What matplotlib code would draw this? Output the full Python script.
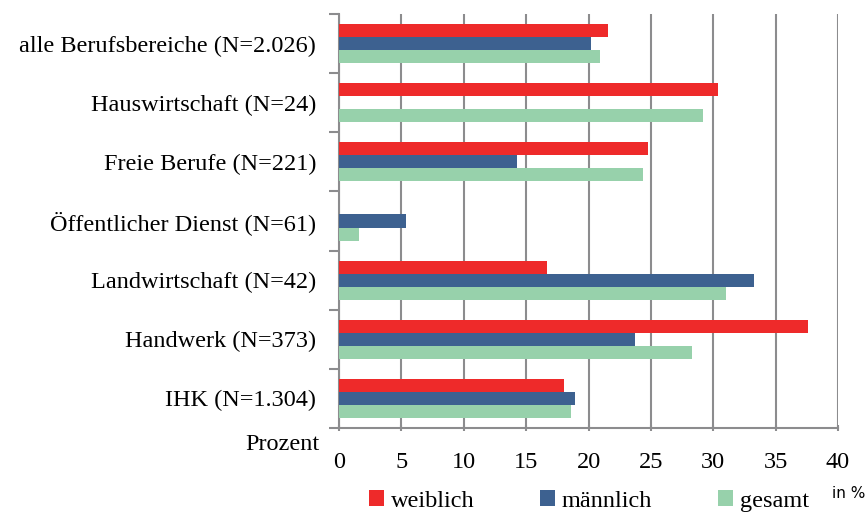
import numpy as np
import matplotlib
matplotlib.use("Agg")
import matplotlib.pyplot as plt
from matplotlib.patches import Patch

# categories, top to bottom as shown
categories = [
    "alle Berufsbereiche (N=2.026)",
    "Hauswirtschaft (N=24)",
    "Freie Berufe (N=221)",
    "Öffentlicher Dienst (N=61)",
    "Landwirtschaft (N=42)",
    "Handwerk (N=373)",
    "IHK (N=1.304)",
]
weiblich = [21.6, 30.4, 24.8, 0.0, 16.7, 37.6, 18.0]
maennlich = [20.2, 0.0, 14.3, 5.35, 33.3, 23.7, 18.95]
gesamt = [20.9, 29.2, 24.4, 1.6, 31.0, 28.3, 18.6]
series_names = ["weiblich", "männlich", "gesamt"]
colors = ["#EE2A2A", "#3D6190", "#97D1AB"]
xticks = [0, 5, 10, 15, 20, 25, 30, 35, 40]

plt.rcParams['font.family'] = ['Liberation Serif', 'DejaVu Serif']
W, H = 866, 512
fig = plt.figure(figsize=(W / 100, H / 100), dpi=100)
ax = fig.add_axes([339 / W, 1 - 428 / H, 499 / W, 414 / H])

n = len(categories)
y = np.arange(n)[::-1]  # top category at highest y
bh = 0.22
for vals, off, c in zip([weiblich, maennlich, gesamt], [bh, 0, -bh], colors):
    ax.barh(y + off, vals, height=bh, color=c, zorder=3)

ax.set_xlim(0, 40)
ax.set_ylim(-0.5, n - 0.5)
ax.set_xticks(xticks)
ax.set_xticklabels([str(t) for t in xticks])
ax.set_yticks(y)
ax.set_yticklabels(categories)
ax.set_yticks(np.arange(-0.5, n, 1.0), minor=True)

grid_col = "#8C8C8E"
ax.grid(axis='x', color=grid_col, linewidth=1.5, zorder=0)
for s in ['top', 'right']:
    ax.spines[s].set_visible(False)
for s in ['left', 'bottom']:
    ax.spines[s].set_color(grid_col)
    ax.spines[s].set_linewidth(1.5)

ax.tick_params(axis='y', which='major', length=0, pad=16.5, labelsize=17.5)
ax.tick_params(axis='y', which='minor', length=7, width=1.5, color=grid_col)
ax.tick_params(axis='x', which='major', length=5, width=1.5, color=grid_col,
               direction='inout', pad=15, labelsize=17.5)

fig.text(320 / W, 1 - 445 / H, "Prozent", ha='right', va='center', fontsize=17.5)
fig.text(832 / W, 1 - 494 / H, "in %", ha='left', va='center', fontsize=11,
         family='DejaVu Sans')

handles = [Patch(facecolor=c, edgecolor='none') for c in colors]
fig.legend(handles, series_names, loc='center', ncol=3,
           bbox_to_anchor=(589 / W, 1 - 501 / H), frameon=False, fontsize=17.5,
           handlelength=0.6, handleheight=0.6, handletextpad=0.3,
           columnspacing=2.7, borderpad=0.1)

fig.savefig("out.png", dpi=100)
